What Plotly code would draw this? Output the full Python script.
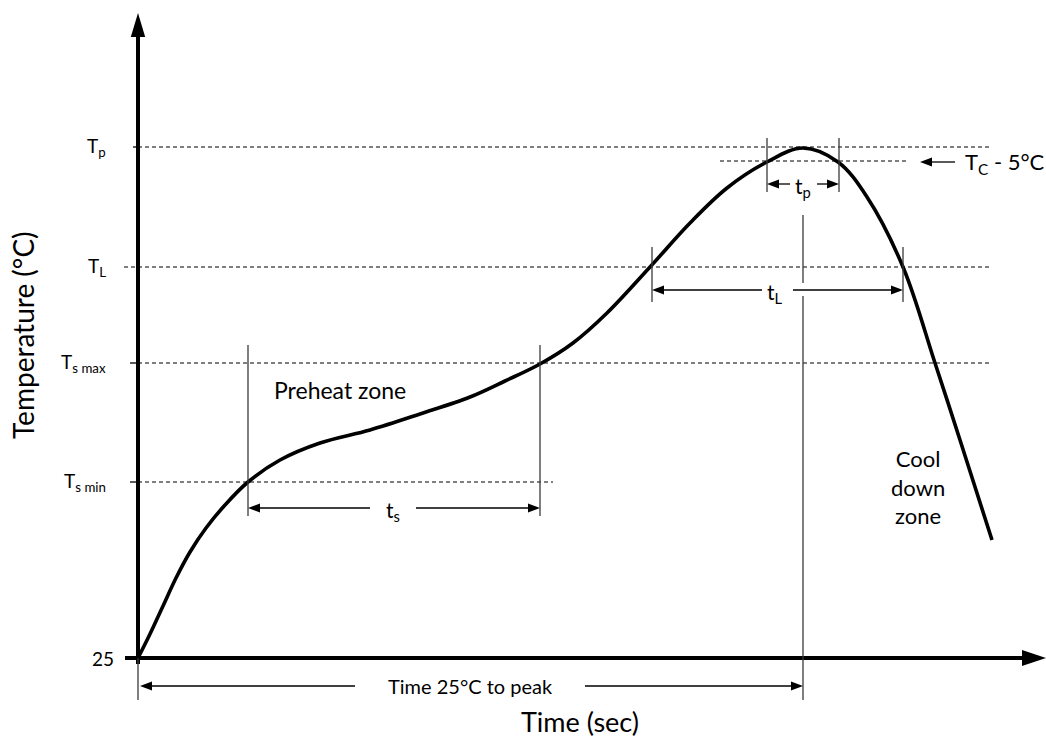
import plotly.graph_objects as go

# ---- data (time in s, temperature in °C, schematic values) ----
time_s = [0, 6, 12.5, 19, 26, 34, 43.5, 55, 71, 91, 116, 141, 166, 183.5, 201, 217.5, 234.5,
          256, 276, 294.5, 314.5, 332.5, 350, 364.5, 382.5, 398.5, 411, 427]
temp_c = [25, 37, 51, 65, 78, 90, 101.5, 113, 124, 132.5, 139, 147, 155.5, 163.5, 172, 182.5, 197.5,
          220.5, 242.5, 260, 273, 280, 273, 255.5, 220.5, 172.5, 134, 84]

level_labels = ["T<sub>p</sub>", "T<sub>L</sub>", "T<sub>s max</sub>", "T<sub>s min</sub>"]
level_values = [280.5, 220.5, 172.5, 113]
level_ends = [426, 426, 426, 207.5]
tc_minus5 = 273.5
ambient = 25

ts_interval = [55, 201]
tl_interval = [257, 382.5]
tp_interval = [314.5, 350.5]
t_peak = 332.5

FONT = "Lato, 'Open Sans', sans-serif"
GREY = "#3a3a3a"

fig = go.Figure()
fig.add_trace(go.Scatter(x=time_s, y=temp_c, mode="lines",
                         line=dict(color="black", width=3.6, shape="spline", smoothing=1.0),
                         hoverinfo="skip", showlegend=False))

shapes = []
annots = []

def line(x0, y0, x1, y1, color=GREY, width=1.3, dash="solid"):
    shapes.append(dict(type="line", xref="x", yref="y", x0=x0, y0=y0, x1=x1, y1=y1,
                       line=dict(color=color, width=width, dash=dash)))

def tri(points, color="black"):
    p = "M " + " L ".join(f"{a},{b}" for a, b in points) + " Z"
    shapes.append(dict(type="path", xref="x", yref="y", path=p,
                       fillcolor=color, line=dict(color=color, width=0)))

def arrow_h(x_tail, x_tip, y, color="black"):
    d = 1 if x_tip > x_tail else -1
    line(x_tail, y, x_tip - d * 5, y, color=color, width=1.3)
    tri([(x_tip, y), (x_tip - d * 6, y + 2.2), (x_tip - d * 6, y - 2.2)], color)

def text(x, y, s, size=16, xanchor="center", angle=0):
    annots.append(dict(x=x, y=y, xref="x", yref="y", text=s, showarrow=False,
                       xanchor=xanchor, yanchor="middle", textangle=angle,
                       font=dict(family=FONT, size=size, color="black")))

# dashed level lines
for lab, v, e in zip(level_labels, level_values, level_ends):
    line(0, v, e, v, color="black", width=1, dash="4px,3px")
    text(-15, v, lab, size=19, xanchor="right")
line(-7, level_values[1], 0, level_values[1], color="black", width=1, dash="4px,3px")
line(-2.5, level_values[0], 0, level_values[0], color="black", width=1.3)
line(-4, level_values[2], 0, level_values[2], color="black", width=1.3)
line(-4, level_values[3], 0, level_values[3], color="black", width=1.3)
line(291, tc_minus5, 385, tc_minus5, color="black", width=1, dash="4px,3px")

# axes
line(0, 22, 0, 336, color="black", width=4)
tri([(-3.6, 335.5), (3.6, 335.5), (0, 347.5)])
line(-6.5, ambient, 443.5, ambient, color="black", width=4)
tri([(442, 29), (442, 21), (454, 25)])
text(-11, ambient, "25", size=19, xanchor="right")

# ts bracket
for t in ts_interval:
    line(t, 96, t, 181.5)
arrow_h(116, ts_interval[0], 100)
arrow_h(139, ts_interval[1], 100)
text(127.5, 98.5, "t<sub>s</sub>", size=21)

# tL bracket
for t in tl_interval:
    line(t, 203, t, 230.5)
arrow_h(312, tl_interval[0], 209)
arrow_h(327.5, tl_interval[1], 209)
text(318.5, 207.5, "t<sub>L</sub>", size=21)

# tp bracket
for t in tp_interval:
    line(t, 258, t, 285)
arrow_h(326, tp_interval[0], 262)
arrow_h(339.5, tp_interval[1], 262)
text(332.5, 260.5, "t<sub>p</sub>", size=21)

# peak vertical and time to peak
line(t_peak, 212.5, t_peak, 246.5)
line(t_peak, 4, t_peak, 206)
line(0, 4, 0, 25)
arrow_h(108.5, 1, 11)
arrow_h(223.5, t_peak, 11)
text(166, 11, "Time 25°C to peak", size=20)

# Tc - 5 marker
arrow_h(408.5, 391, 273)
text(412.5, 272.5, "T<sub>C</sub> - 5°C", size=22, xanchor="left")

# zone labels and titles
text(101, 159, "Preheat zone", size=23)
text(390, 110.5, "Cool<br>down<br>zone", size=22)
text(-57.5, 186.5, "Temperature (°C)", size=28, angle=-90)
text(221, -6.5, "Time (sec)", size=27)

fig.update_layout(
    width=1046, height=740,
    margin=dict(l=0, r=0, t=0, b=0),
    paper_bgcolor="white", plot_bgcolor="white",
    xaxis=dict(range=[-69, 454], visible=False, fixedrange=True),
    yaxis=dict(range=[-16, 354], visible=False, fixedrange=True),
    shapes=shapes, annotations=annots, showlegend=False,
)
fig.write_html("out.html", config={"displayModeBar": False},
               post_script="document.body.style.margin='0px';document.body.style.overflow='hidden';")
